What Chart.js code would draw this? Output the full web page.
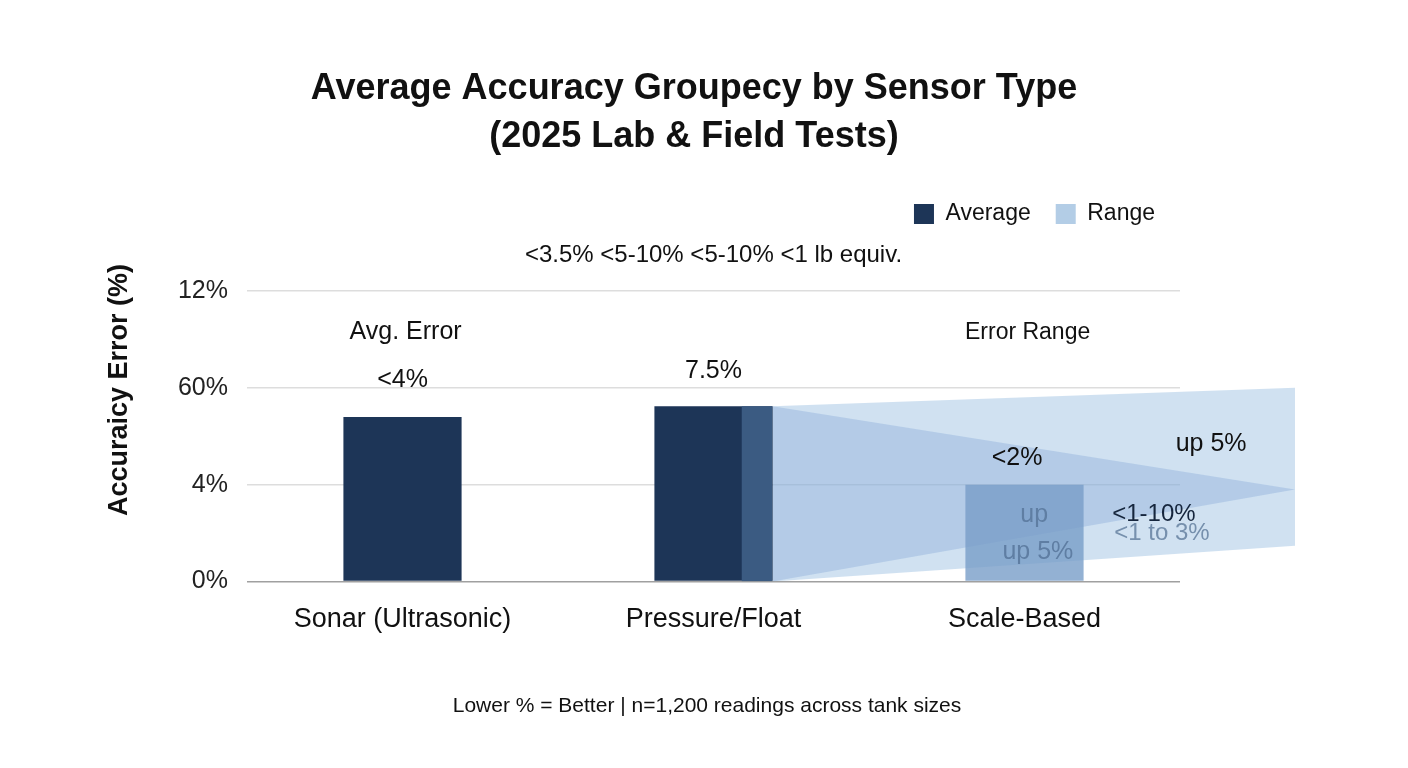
<!DOCTYPE html>
<html>
<head>
<meta charset="utf-8">
<script src="https://cdn.jsdelivr.net/npm/chart.js@4.4.1/dist/chart.umd.min.js"></script>
<style>
  html, body { margin: 0; padding: 0; background: #fff; }
  #wrap { width: 1408px; height: 768px; }
</style>
</head>
<body>
<div id="wrap"><canvas id="myChart"></canvas></div>
<script>
let categories = ['Sonar (Ultrasonic)', 'Pressure/Float', 'Scale-Based'];
let yTickLabels = ['0%', '4%', '60%', '12%'];
let averageValues = [1.70, 1.81, 1.00];

// narrow strip on the right side of the Pressure/Float bar
let stripX = [1.09, 1.19];
let stripY = [1.81, 1.81];

// the "range" fan opening to the right
let fanX = [1.19, 2.87];
let fanOuterTop = [1.81, 2.0];
let fanOuterBottom = [0, 0.37];
let fanInnerTop = [1.81, 0.95];
let fanInnerBottom = [0, 0.95];

let legendNames = ['Average', 'Range'];
let legendColors = { 'Average': '#1d3557', 'Range': '#b3cde6' };

let notes = [
    { text: 'Avg. Error', x: 0.01, y: 2.58, size: 25, color: '#111' },
    { text: '<4%', x: 0.0, y: 2.08, size: 25, color: '#111' },
    { text: '7.5%', x: 1.0, y: 2.175, size: 25, color: '#111' },
    { text: 'Error Range', x: 2.01, y: 2.567, size: 23, color: '#111' },
    { text: '<2%', x: 1.976, y: 1.278, size: 25, color: '#111' },
    { text: 'up 5%', x: 2.60, y: 1.423, size: 25, color: '#111' },
    { text: 'up', x: 2.031, y: 0.691, size: 25, color: '#5f7ea3' },
    { text: 'up 5%', x: 2.043, y: 0.309, size: 25, color: '#5f7ea3' },
    { text: '<1-10%', x: 2.416, y: 0.691, size: 24, color: '#16263d' },
    { text: '<1 to 3%', x: 2.442, y: 0.495, size: 24, color: '#7690ad' }
];

let toPoints = (xs, ys) => xs.map((x, i) => ({ x: x, y: ys[i] }));

let fontFam = '"Liberation Sans", Arial, sans-serif';
Chart.defaults.font.family = fontFam;
Chart.defaults.color = '#111';

let notesPlugin = {
    id: 'notes',
    beforeDatasetsDraw(chart) {
        // let the range fan run past the right end of the grid
        chart.$savedRight = chart.chartArea.right;
        chart.chartArea.right = chart.width;
    },
    afterDatasetsDraw(chart) {
        chart.chartArea.right = chart.$savedRight;
        let c = chart.ctx;
        let xs = chart.scales.x2;
        let ys = chart.scales.y;
        c.save();
        c.textAlign = 'center';
        c.textBaseline = 'middle';
        notes.forEach(n => {
            c.font = n.size + 'px ' + fontFam;
            c.fillStyle = n.color;
            c.fillText(n.text, xs.getPixelForValue(n.x), ys.getPixelForValue(n.y));
        });
        c.restore();
    },
    afterDraw(chart) {
        let c = chart.ctx;
        c.save();
        c.fillStyle = '#111';
        c.textAlign = 'center';
        c.textBaseline = 'middle';
        // y axis title
        c.translate(120, 390);
        c.rotate(-Math.PI / 2);
        c.font = 'bold 27px ' + fontFam;
        c.fillText('Accuraicy Error (%)', 0, 0);
        c.restore();
        c.save();
        c.fillStyle = '#111';
        c.textAlign = 'center';
        c.textBaseline = 'middle';
        c.font = '21px ' + fontFam;
        c.fillText('Lower % = Better | n=1,200 readings across tank sizes', 707, 706);
        c.restore();
    }
};

let lineBase = {
    type: 'line',
    xAxisID: 'x2',
    borderColor: 'transparent',
    borderWidth: 0,
    pointRadius: 0,
    clip: false
};

let ctx = document.getElementById('myChart').getContext('2d');
let myChart = new Chart(ctx, {
    type: 'bar',
    data: {
        labels: categories,
        datasets: [{
            label: 'Average',
            data: averageValues,
            backgroundColor: ['#1d3557', '#1d3557', 'rgba(120, 157, 200, 0.8)'],
            barPercentage: 0.38,
            categoryPercentage: 1,
            grouped: false,
            order: 0
        }, Object.assign({}, lineBase, {
            label: 'strip',
            data: toPoints(stripX, stripY),
            backgroundColor: '#3b5b82',
            fill: 'origin',
            order: -1
        }), Object.assign({}, lineBase, {
            label: 'Range',
            data: toPoints(fanX, fanOuterTop),
            backgroundColor: 'rgba(150, 188, 224, 0.45)',
            fill: '+1',
            order: 3
        }), Object.assign({}, lineBase, {
            label: 'outerBottom',
            data: toPoints(fanX, fanOuterBottom),
            fill: false,
            order: 4
        }), Object.assign({}, lineBase, {
            label: 'innerTop',
            data: toPoints(fanX, fanInnerTop),
            backgroundColor: 'rgba(120, 160, 210, 0.32)',
            fill: '+1',
            order: 2
        }), Object.assign({}, lineBase, {
            label: 'innerBottom',
            data: toPoints(fanX, fanInnerBottom),
            fill: false,
            order: 2.5
        })]
    },
    options: {
        responsive: true,
        maintainAspectRatio: false,
        animation: false,
        layout: { padding: { top: 0, left: 0, right: 20, bottom: 118 } },
        plugins: {
            title: {
                display: true,
                text: ['Average Accuracy Groupecy by Sensor Type', '(2025 Lab & Field Tests)'],
                font: { size: 36, weight: 'bold', lineHeight: 1.333 },
                color: '#111',
                padding: { top: 65, bottom: 16.5 }
            },
            legend: {
                display: true,
                position: 'top',
                align: 'end',
                fullSize: false,
                labels: {
                    boxWidth: 20,
                    boxHeight: 20,
                    padding: 25,
                    font: { size: 23 },
                    color: '#111',
                    generateLabels: (chart) => Chart.defaults.plugins.legend.labels.generateLabels(chart)
                        .filter(l => legendNames.includes(l.text))
                        .map(l => Object.assign(l, {
                            fillStyle: legendColors[l.text],
                            strokeStyle: legendColors[l.text],
                            lineWidth: 0
                        }))
                }
            },
            subtitle: {
                display: true,
                text: '<3.5% <5-10% <5-10% <1 lb equiv.',
                font: { size: 24, lineHeight: 1.2 },
                color: '#111',
                weight: 500,
                fullSize: false,
                padding: { top: 5.1, bottom: 21.6 }
            },
            tooltip: { enabled: false }
        },
        scales: {
            x: {
                grid: { display: false },
                border: { display: false },
                ticks: { padding: 14, font: { size: 27 }, color: '#111' }
            },
            x2: {
                type: 'linear',
                display: false,
                offset: false,
                min: -0.5,
                max: 2.5
            },
            y: {
                min: 0,
                max: 3,
                afterFit: (scale) => { scale.width = 247; },
                border: { display: false },
                grid: {
                    drawTicks: false,
                    lineWidth: 1.5,
                    color: (c) => c.tick.value === 0 ? '#a0a0a0' : '#dddddd'
                },
                ticks: {
                    stepSize: 1,
                    padding: 19,
                    font: { size: 25 },
                    color: '#222',
                    callback: (v) => yTickLabels[v]
                }
            },
            yR: {
                type: 'linear',
                position: 'right',
                display: true,
                grid: { display: false },
                border: { display: false },
                ticks: { display: false },
                afterFit: (scale) => { scale.width = 208; }
            }
        }
    },
    plugins: [notesPlugin]
});
</script>
</body>
</html>
